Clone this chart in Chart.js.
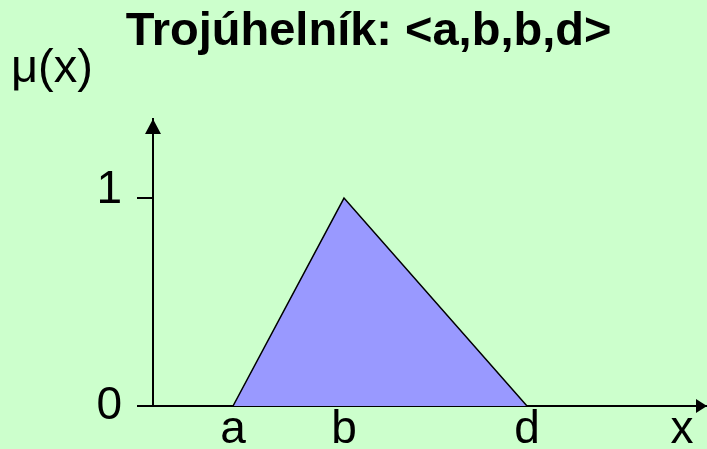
<!DOCTYPE html>
<html>
<head>
<meta charset="utf-8">
<style>
  html, body { margin: 0; padding: 0; background: #ccffcc; }
</style>
<script src="https://cdn.jsdelivr.net/npm/chart.js@4.4.1/dist/chart.umd.min.js"></script>
</head>
<body>
<canvas id="myChart" width="707" height="449"></canvas>
<script>
const chartTitle = 'Trojúhelník: <a,b,b,d>';
const yAxisName = 'μ(x)';
const xTickLabels = ['a', 'b', 'd', 'x'];
const xTickValues = [0.8, 1.91, 3.74, 5.29];
const yTickValues = [0, 1];
const triangleX = [0.8, 1.91, 3.74];
const triangleY = [0, 1, 0];
const xMax = 5.54;
const yMax = 1.38;

const font = "'Liberation Sans', Arial, sans-serif";

// arrow heads on both axes + the mu(x) axis name
const axisArrows = {
    id: 'axisArrows',
    afterDraw(chart) {
        const ctx = chart.ctx;
        const x = chart.scales.x, y = chart.scales.y;
        const x0 = x.getPixelForValue(0), y0 = y.getPixelForValue(0);
        const xEnd = x.getPixelForValue(xMax), yEnd = y.getPixelForValue(yMax);
        ctx.save();
        ctx.fillStyle = '#000';
        ctx.beginPath();
        ctx.moveTo(xEnd, y0);
        ctx.lineTo(xEnd - 11, y0 - 7);
        ctx.lineTo(xEnd - 11, y0 + 7);
        ctx.closePath();
        ctx.fill();
        ctx.beginPath();
        ctx.moveTo(x0, yEnd);
        ctx.lineTo(x0 - 8, yEnd + 15);
        ctx.lineTo(x0 + 8, yEnd + 15);
        ctx.closePath();
        ctx.fill();
        ctx.font = '47px ' + font;
        ctx.textAlign = 'left';
        ctx.textBaseline = 'alphabetic';
        ctx.fillText(yAxisName, 11, 82);
        ctx.restore();
    }
};

const ctx = document.getElementById('myChart').getContext('2d');
const myChart = new Chart(ctx, {
    type: 'scatter',
    data: {
        datasets: [{
            data: triangleX.map((v, i) => ({ x: v, y: triangleY[i] })),
            showLine: true,
            fill: 'origin',
            backgroundColor: '#9999ff',
            borderColor: '#000',
            borderWidth: 1.5,
            pointRadius: 0,
            tension: 0
        }]
    },
    options: {
        responsive: false,
        animation: false,
        devicePixelRatio: 1,
        layout: { padding: { left: 30, top: 0, right: 0, bottom: 0 } },
        plugins: {
            legend: { display: false },
            tooltip: { enabled: false },
            title: {
                display: true,
                text: chartTitle,
                color: '#000',
                font: { family: font, size: 47, weight: 'bold', lineHeight: 1.2 },
                padding: { top: 4, bottom: 58.6 }
            }
        },
        scales: {
            x: {
                type: 'linear',
                min: 0,
                max: xMax,
                z: 1,
                afterBuildTicks: s => { s.ticks = xTickValues.map(v => ({ value: v })); },
                afterFit: s => { s.height = 43; },
                grid: { display: false, drawTicks: false },
                border: { display: true, color: '#000', width: 2 },
                ticks: {
                    autoSkip: false,
                    maxRotation: 0,
                    padding: 1,
                    color: '#000',
                    font: { family: font, size: 46, lineHeight: 1 },
                    callback: (v, i) => xTickLabels[i]
                }
            },
            y: {
                type: 'linear',
                min: 0,
                max: yMax,
                z: 1,
                afterBuildTicks: s => { s.ticks = yTickValues.map(v => ({ value: v })); },
                afterFit: s => { s.width = 123; },
                grid: { display: true, drawOnChartArea: false, drawTicks: true, tickLength: 16, color: '#000', lineWidth: 2 },
                border: { display: true, color: '#000', width: 2 },
                ticks: {
                    padding: 15,
                    color: '#000',
                    font: { family: font, size: 46, lineHeight: 0.35 },
                    callback: v => v === 1 ? ['1', ''] : String(v)
                }
            }
        }
    },
    plugins: [axisArrows]
});
</script>
</body>
</html>
